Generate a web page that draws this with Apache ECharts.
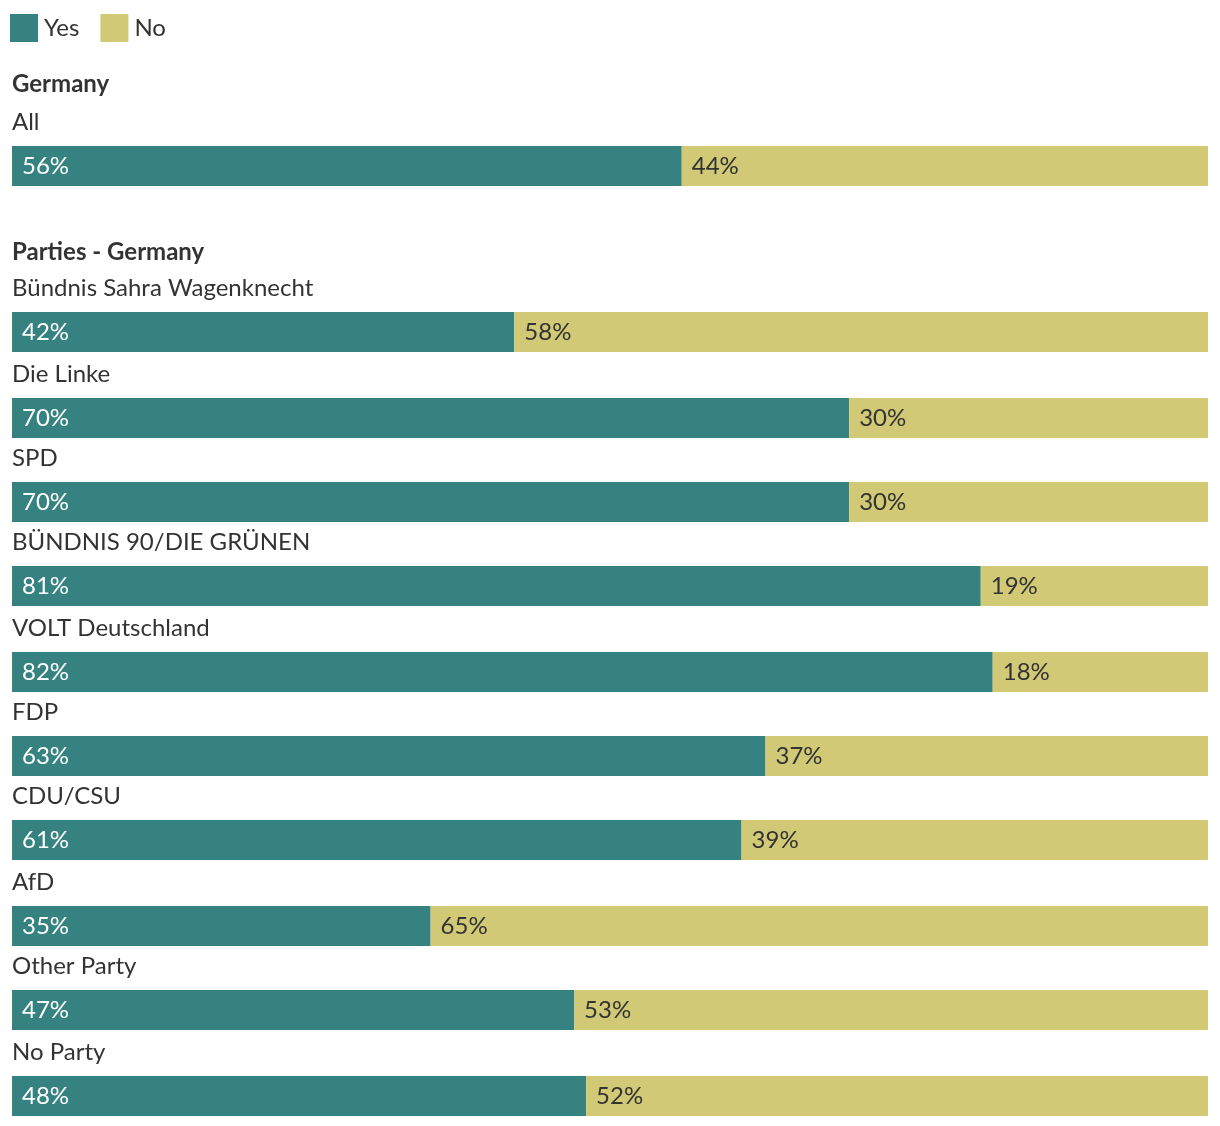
<!DOCTYPE html>
<html><head><meta charset="utf-8">
<script src="https://cdn.jsdelivr.net/npm/echarts@6/dist/echarts.min.js"></script>
<style>html,body{margin:0;padding:0;background:#fff}#c{width:1220px;height:1126px}</style>
</head><body><div id="c"></div>
<script>
const groups = ['Germany', 'Parties - Germany'];
const categories = ['All', 'Bündnis Sahra Wagenknecht', 'Die Linke', 'SPD', 'BÜNDNIS 90/DIE GRÜNEN', 'VOLT Deutschland', 'FDP', 'CDU/CSU', 'AfD', 'Other Party', 'No Party'];
const yesValues = [56, 42, 70, 70, 81, 82, 63, 61, 35, 47, 48];
const noValues = [44, 58, 30, 30, 19, 18, 37, 39, 65, 53, 52];
const seriesNames = ['Yes', 'No'];

const TEAL = '#368281', SAND = '#d1c976', TEXT = '#333333';
const FONT = 'Lato, "Noto Sans", sans-serif';
const barTops = [146, 312, 398, 482, 566, 652, 736, 820, 906, 990, 1076];
const groupY = [84, 252];

const grids = [], xAxes = [], yAxes = [], series = [], graphics = [];
categories.forEach((cat, i) => {
  grids.push({ left: 12, right: 12, top: barTops[i], height: 40 });
  xAxes.push({ gridIndex: i, type: 'value', min: 0, max: 100, show: false });
  yAxes.push({ gridIndex: i, type: 'category', data: [cat], show: false });
  [yesValues, noValues].forEach((vals, s) => {
    series.push({
      name: seriesNames[s], type: 'bar', stack: 'st' + i,
      xAxisIndex: i, yAxisIndex: i, barWidth: 40, silent: true,
      itemStyle: { color: s === 0 ? TEAL : SAND },
      label: { show: true, position: 'insideLeft', distance: 10, formatter: '{c}%',
        color: s === 0 ? '#ffffff' : TEXT, fontSize: 24, fontFamily: FONT },
      data: [vals[i]]
    });
  });
  graphics.push({ type: 'text', x: 12, y: barTops[i] - 23.5,
    style: { text: cat, fill: TEXT, font: '24px ' + FONT, textVerticalAlign: 'middle' } });
});
groups.forEach((g, k) => {
  graphics.push({ type: 'text', x: 12, y: groupY[k],
    style: { text: g, fill: TEXT, font: 'bold 24px ' + FONT, textVerticalAlign: 'middle' } });
});

const chart = echarts.init(document.getElementById('c'), null, { renderer: 'canvas' });
chart.setOption({
  animation: false,
  legend: { data: seriesNames, left: 5, top: 9, itemWidth: 28, itemHeight: 28, itemGap: 21,
    icon: 'rect', selectedMode: false,
    textStyle: { fontSize: 24, color: TEXT, fontFamily: FONT, padding: [0, 0, 0, 1] } },
  grid: grids, xAxis: xAxes, yAxis: yAxes, series: series, graphic: graphics
});
</script></body></html>
